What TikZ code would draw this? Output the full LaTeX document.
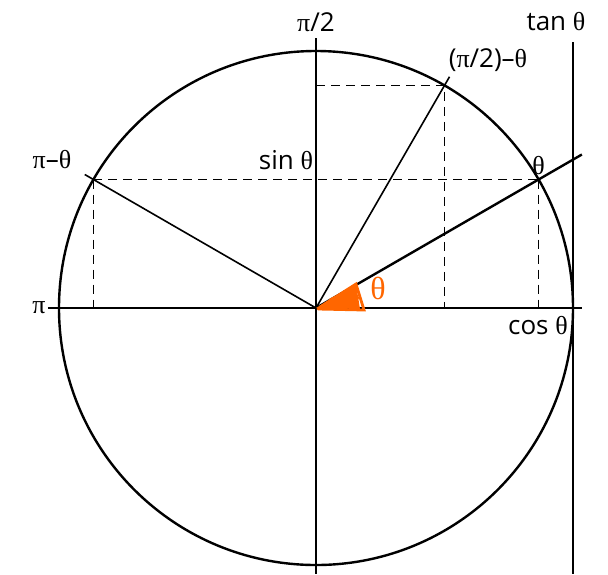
\documentclass[tikz,border=0pt]{standalone}
\usepackage{fontspec}
\setmainfont{Open Sans}
\newfontfamily\greekfont{Liberation Serif}
\usepackage{tikz}
\definecolor{scribble}{RGB}{255,102,0}
\newcommand{\gth}{{\greekfont θ}}
\newcommand{\gpi}{{\greekfont π}}

\begin{document}
\begin{tikzpicture}[x=0.5pt, y=0.5pt, font=\fontsize{13}{15}\selectfont,
    axis/.style={line width=0.9pt},
    ray/.style={line width=0.8pt},
    guide/.style={line width=0.9pt, dash pattern=on 4.5pt off 3pt},
    lbl/.style={inner sep=1pt}]
        \useasboundingbox (-316,-266) rectangle (292,308);
        \coordinate (O) at (0,0);
        \coordinate (T) at (30:257);
        \coordinate (P) at (60:257);
        \coordinate (Q) at (150:257);
        \coordinate (Tx) at (T |- O);
        \coordinate (Px) at (P |- O);
        \coordinate (Qx) at (Q |- O);
        \coordinate (Py) at (O |- P);

        % circle and axes
        \draw[line width=1.2pt] (O) circle (257);
        \draw[axis] (0,270) coordinate (top) -- (0,-266);
        \draw[axis] (-268,0) coordinate (left) -- (266,0);
        \draw[line width=1.2pt] (257,266) -- (257,-266);

        % dashed projections
        \draw[guide] (Q) -- (T);
        \draw[guide] (Q) -- (Qx);
        \draw[guide] (T) -- (Tx);
        \draw[guide] (Py) -- (P) -- (Px);

        % rays
        \draw[line width=1.2pt] (O) -- (30:307);
        \draw[ray] (O) -- (60:267);
        \draw[ray] (O) -- (150:267);

        % scribbled angle
        \fill[scribble] (O) -- (44,-1) -- (40,24) -- cycle;
        \draw[scribble, line width=1.4pt, line cap=round]
            (4,1) -- (40,24) -- (48,-2) -- (2,-1)
            (10,4) -- (42,10) (14,8) -- (36,20) (18,2) -- (40,16);

        % labels
        \node[lbl] (halfpi) at (0,286) {\gpi/2};
        \node[lbl] (tanlbl) at (240,286) {tan \gth};
        \node[lbl] (complbl) at (172,248) {(\gpi/2)–\gth};
        \node[lbl, above=1pt] (thlbl) at (T) {\gth};
        \node[lbl] (sinlbl) at (-30,148) {sin \gth};
        \node[lbl] (supplbl) at (-264,148) {\gpi–\gth};
        \node[lbl, anchor=east] (pilbl) at (left) {\gpi};
        \node[lbl] (coslbl) at (222,-18) {cos \gth};
        \node[lbl, text=scribble, font=\fontsize{16}{18}\selectfont] (anglbl) at (62,20) {\gth};
\end{tikzpicture}
\end{document}
